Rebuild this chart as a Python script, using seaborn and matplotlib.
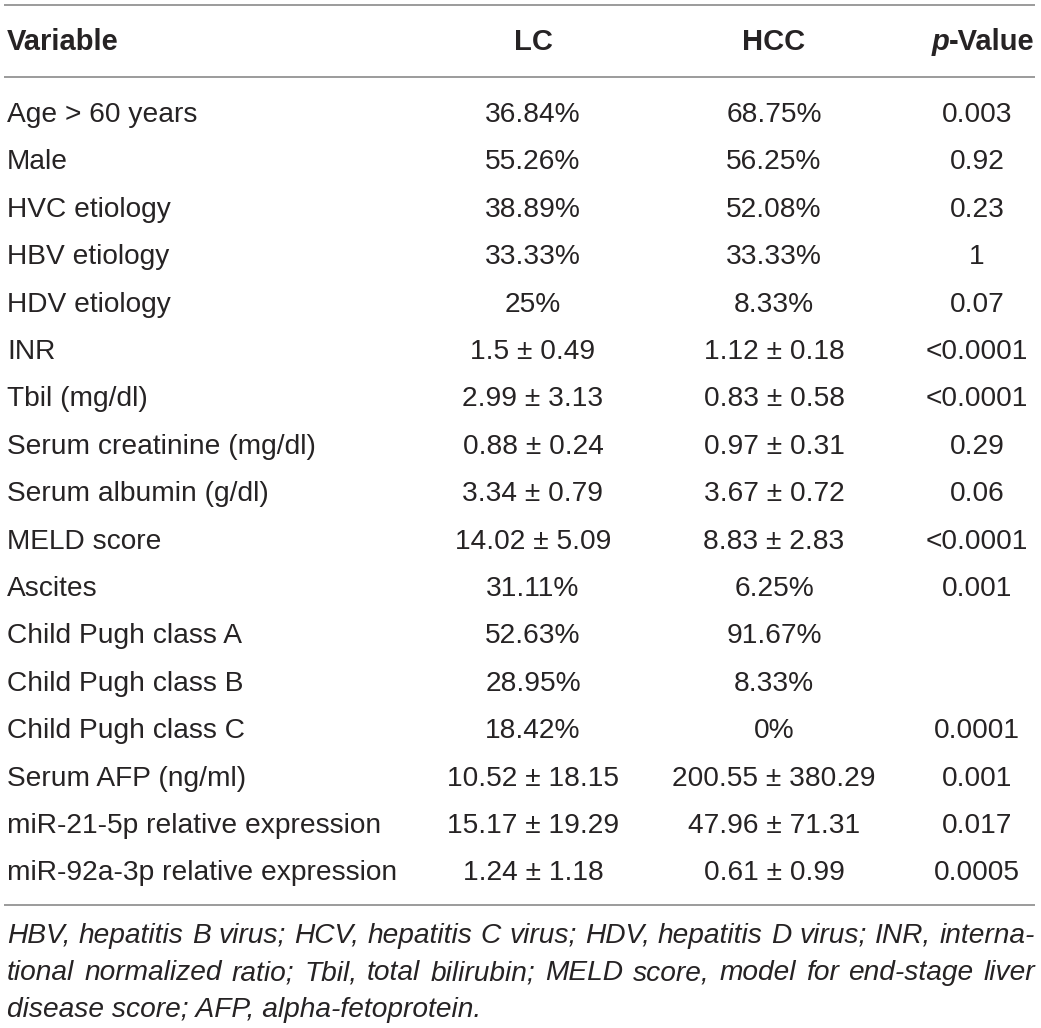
import matplotlib
matplotlib.use("Agg")
import matplotlib.pyplot as plt
import seaborn as sns
import pandas as pd

# table content
variables = ["Age > 60 years", "Male", "HVC etiology", "HBV etiology", "HDV etiology",
             "INR", "Tbil (mg/dl)", "Serum creatinine (mg/dl)", "Serum albumin (g/dl)",
             "MELD score", "Ascites", "Child Pugh class A", "Child Pugh class B",
             "Child Pugh class C", "Serum AFP (ng/ml)", "miR-21-5p relative expression",
             "miR-92a-3p relative expression"]
lc_vals = ["36.84%", "55.26%", "38.89%", "33.33%", "25%", "1.5 ± 0.49", "2.99 ± 3.13",
           "0.88 ± 0.24", "3.34 ± 0.79", "14.02 ± 5.09", "31.11%", "52.63%", "28.95%",
           "18.42%", "10.52 ± 18.15", "15.17 ± 19.29", "1.24 ± 1.18"]
hcc_vals = ["68.75%", "56.25%", "52.08%", "33.33%", "8.33%", "1.12 ± 0.18", "0.83 ± 0.58",
            "0.97 ± 0.31", "3.67 ± 0.72", "8.83 ± 2.83", "6.25%", "91.67%", "8.33%",
            "0%", "200.55 ± 380.29", "47.96 ± 71.31", "0.61 ± 0.99"]
p_vals = ["0.003", "0.92", "0.23", "1", "0.07", "<0.0001", "<0.0001", "0.29", "0.06",
          "<0.0001", "0.001", "", "", "0.0001", "0.001", "0.017", "0.0005"]
header = ["Variable", "LC", "HCC", "p", "-Value"]
footnote = ["HBV, hepatitis B virus; HCV, hepatitis C virus; HDV, hepatitis D virus; INR, interna-",
            "tional normalized ratio; Tbil, total bilirubin; MELD score, model for end-stage liver",
            "disease score; AFP, alpha-fetoprotein."]

df = pd.DataFrame({"Variable": variables, "LC": lc_vals, "HCC": hcc_vals, "p": p_vals})

sns.set_theme(style="white")
plt.rcParams['font.family'] = ['Liberation Sans', 'DejaVu Sans']

W, H = 1041, 1028
fig = plt.figure(figsize=(W / 100, H / 100), dpi=100)
ax = fig.add_axes([0, 0, 1, 1])
ax.set_xlim(0, W)
ax.set_ylim(H, 0)
ax.axis('off')

txt_color = '#262324'
rule_color = '#9b9b9b'
fs = 20.25
left, right = 7, 1035
col_x = {"LC": 533, "HCC": 774, "p": 977}

# horizontal rules
for y in [5, 77, 905]:
    ax.plot([left - 3, right], [y, y], color=rule_color, lw=1.4, solid_capstyle='butt')

# header
hb = 50
hfs = 21
ax.text(left, hb, header[0], fontsize=hfs, fontweight='bold', color=txt_color, va='baseline', ha='left')
ax.text(col_x["LC"], hb, header[1], fontsize=hfs, fontweight='bold', color=txt_color, va='baseline', ha='center')
ax.text(col_x["HCC"], hb, header[2], fontsize=hfs, fontweight='bold', color=txt_color, va='baseline', ha='center')
t_val = ax.text(right, hb, header[4], fontsize=hfs, fontweight='bold', color=txt_color, va='baseline', ha='right')
renderer = fig.canvas.get_renderer()
bb = t_val.get_window_extent(renderer)
ax.text(bb.x0, hb, header[3], fontsize=hfs, fontweight='bold', fontstyle='italic',
        color=txt_color, va='baseline', ha='right')

# body rows
base0, step = 122, 47.4
for i, row in df.iterrows():
    yb = base0 + i * step
    ax.text(left, yb, row["Variable"], fontsize=fs, color=txt_color, va='baseline', ha='left')
    ax.text(col_x["LC"], yb, row["LC"], fontsize=fs, color=txt_color, va='baseline', ha='center')
    ax.text(col_x["HCC"], yb, row["HCC"], fontsize=fs, color=txt_color, va='baseline', ha='center')
    if row["p"]:
        ax.text(col_x["p"], yb, row["p"], fontsize=fs, color=txt_color, va='baseline', ha='center')


# footnote, justified except last line
def justified_line(words, yb, x0, x1):
    arts = [ax.text(0, yb, w, fontsize=fs, fontstyle='italic', color=txt_color,
                    va='baseline', ha='left') for w in words]
    widths = [a.get_window_extent(renderer).width for a in arts]
    gap = (x1 - x0 - sum(widths)) / max(len(words) - 1, 1)
    x = x0
    for a, w in zip(arts, widths):
        a.set_x(x)
        x += w + gap


foot_base = [943, 980, 1017]
for k, line in enumerate(footnote):
    if k < len(footnote) - 1:
        justified_line(line.split(" "), foot_base[k], left, right)
    else:
        ax.text(left, foot_base[k], line, fontsize=fs, fontstyle='italic', color=txt_color,
                va='baseline', ha='left')

fig.savefig("out.png", dpi=100)
